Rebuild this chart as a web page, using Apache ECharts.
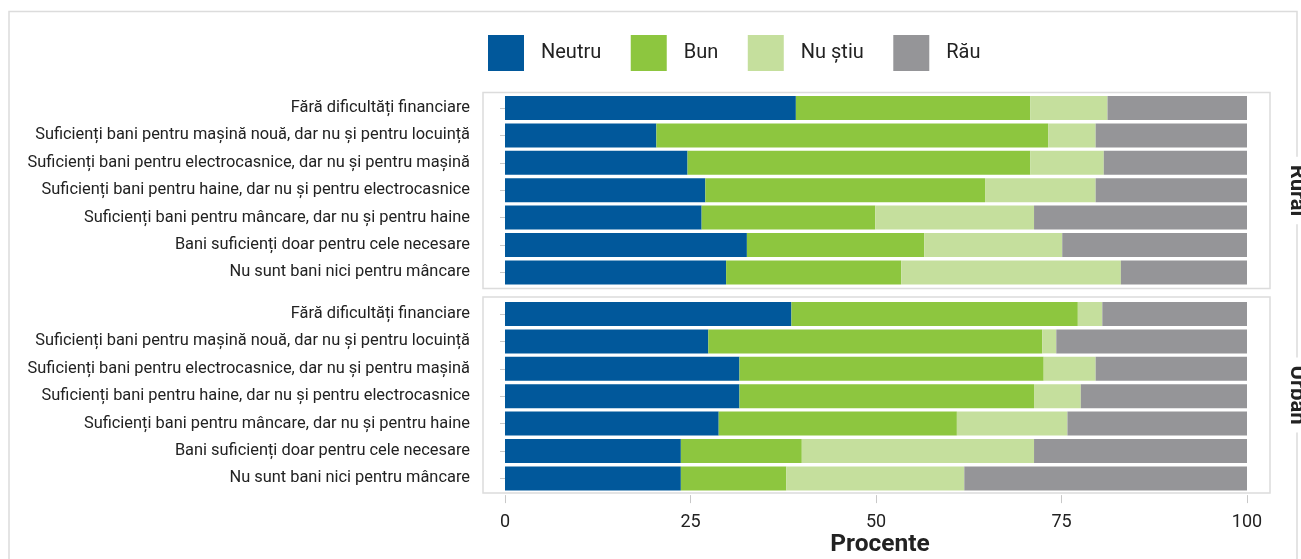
<!DOCTYPE html>
<html>
<head>
<meta charset="utf-8">
<script src="https://cdn.jsdelivr.net/npm/echarts@6/dist/echarts.min.js"></script>
<style>
html,body{margin:0;padding:0;background:#fff;}
#chart{width:1301px;height:559px;}
</style>
</head>
<body>
<div id="chart"></div>
<script>
const categories = [
  'Fără dificultăți financiare',
  'Suficienți bani pentru mașină nouă, dar nu și pentru locuință',
  'Suficienți bani pentru electrocasnice, dar nu și pentru mașină',
  'Suficienți bani pentru haine, dar nu și pentru electrocasnice',
  'Suficienți bani pentru mâncare, dar nu și pentru haine',
  'Bani suficienți doar pentru cele necesare',
  'Nu sunt bani nici pentru mâncare'
];
const seriesNames = ['Neutru', 'Bun', 'Nu știu', 'Rău'];
const panels = ['Rural', 'Urban'];
const xTicks = [0, 25, 50, 75, 100];

const ruralNeutru = [39.2, 20.4, 24.6, 27.0, 26.5, 32.6, 29.8];
const ruralBun    = [31.6, 52.8, 46.2, 37.7, 23.4, 23.9, 23.6];
const ruralNuStiu = [10.4, 6.4, 9.9, 14.9, 21.4, 18.6, 29.6];
const ruralRau    = [18.8, 20.4, 19.3, 20.4, 28.7, 24.9, 17.0];

const urbanNeutru = [38.6, 27.4, 31.6, 31.6, 28.8, 23.7, 23.7];
const urbanBun    = [38.6, 45.0, 41.0, 39.7, 32.1, 16.3, 14.2];
const urbanNuStiu = [3.3, 1.9, 7.0, 6.3, 14.9, 31.3, 24.0];
const urbanRau    = [19.5, 25.7, 20.4, 22.4, 24.2, 28.7, 38.1];

const colors = ['#01589b', '#8dc63f', '#c5df9d', '#959598'];
const FONT = 'Roboto';

const panelData = [
  [ruralNeutru, ruralBun, ruralNuStiu, ruralRau],
  [urbanNeutru, urbanBun, urbanNuStiu, urbanRau]
];

const chart = echarts.init(document.getElementById('chart'), null, {renderer: 'canvas'});

const grids = [
  {left: 505, top: 94.3, width: 742, height: 191.8, show: false},
  {left: 505, top: 300.3, width: 742, height: 191.8, show: false}
];

const xAxes = [0, 1].map(i => ({
  type: 'value', gridIndex: i, min: xTicks[0], max: xTicks[xTicks.length - 1], interval: 25,
  axisLine: {show: false},
  splitLine: {show: false},
  axisTick: {show: i === 1, length: 8, lineStyle: {color: '#c8c8c8', width: 1}},
  axisLabel: {show: i === 1, margin: 18, fontFamily: FONT, fontSize: 18, color: '#222'},
  offset: i === 1 ? 3 : 0,
  name: i === 1 ? 'Procente' : '',
  nameLocation: 'middle',
  nameGap: 33,
  nameTextStyle: {fontFamily: FONT, fontSize: 24.5, fontWeight: 'bold', color: '#222', padding: [0, 0, 0, 8]}
}));

const yAxes = [0, 1].map(i => ({
  type: 'category', gridIndex: i, data: categories, inverse: true,
  offset: 25,
  axisLine: {show: false},
  axisTick: {show: true, length: 5, alignWithLabel: true, lineStyle: {color: '#c8c8c8', width: 1}},
  axisLabel: {margin: 10, fontFamily: FONT, fontSize: 16.4, color: '#222'}
}));

const series = [];
[0, 1].forEach(p => {
  seriesNames.forEach((name, k) => {
    series.push({
      type: 'bar', name: name, stack: 'p' + p,
      xAxisIndex: p, yAxisIndex: p,
      data: panelData[p][k],
      barWidth: 24,
      itemStyle: {color: colors[k]},
      emphasis: {disabled: true}
    });
  });
});

const frameStyle = {fill: 'none', stroke: '#dcdcdc', lineWidth: 1.5};
const graphics = [
  {type: 'rect', shape: {x: 9, y: 11.5, width: 1288, height: 600}, style: frameStyle, z: 0, silent: true},
  {type: 'rect', shape: {x: 483, y: 92.5, width: 787, height: 196}, style: frameStyle, z: 0, silent: true},
  {type: 'rect', shape: {x: 483, y: 297, width: 787, height: 196}, style: frameStyle, z: 0, silent: true}
];
const stripY = [190.5, 395];
panels.forEach((t, i) => {
  graphics.push({
    type: 'text', x: 1296, y: stripY[i], rotation: -Math.PI / 2, z: 10, silent: true,
    style: {
      text: t, fontFamily: FONT, fontSize: 22, fontWeight: 'bold', fill: '#222',
      align: 'center', verticalAlign: 'middle',
      backgroundColor: '#fff', padding: [0, 8]
    }
  });
});

chart.setOption({
  animation: false,
  color: colors,
  legend: {
    data: seriesNames,
    left: 483, top: 30,
    itemWidth: 36, itemHeight: 36, itemGap: 29.5,
    icon: 'rect',
    textStyle: {fontFamily: FONT, fontSize: 20, color: '#222', padding: [0, 0, 0, 12]}
  },
  grid: grids,
  xAxis: xAxes,
  yAxis: yAxes,
  series: series,
  graphic: graphics
});
</script>
</body>
</html>
